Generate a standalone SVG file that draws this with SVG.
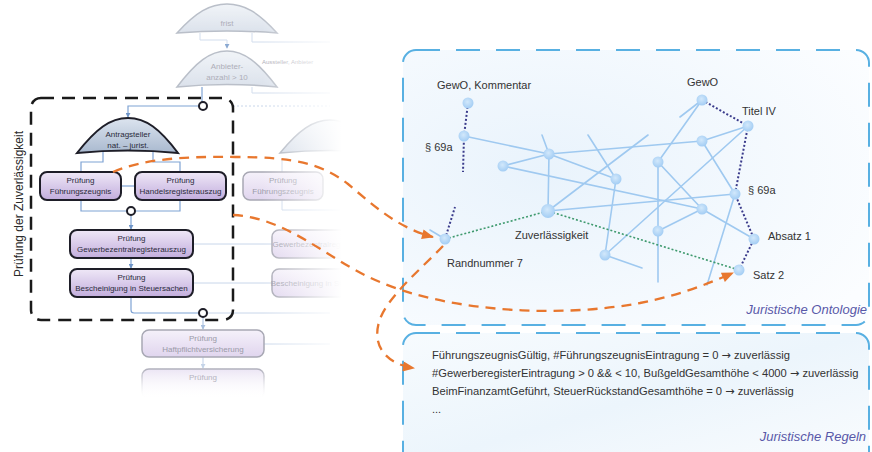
<svg xmlns="http://www.w3.org/2000/svg" width="872" height="452" viewBox="0 0 872 452">
<defs>
<style>
.t{font-family:"Liberation Sans",Arial,sans-serif;fill:#333}
.ar{font-family:"DejaVu Sans",sans-serif}
.fc{font-family:"Liberation Sans",Arial,sans-serif;font-size:8px;fill:#2a2a3a;text-anchor:middle}
.ff{font-family:"Liberation Sans",Arial,sans-serif;font-size:8px;fill:#9a9aa8;text-anchor:middle}
.box{fill:url(#gPurple);stroke:#1e1e28;stroke-width:2}
.fbox{fill:url(#gPurpleF);stroke:#a8a8b4;stroke-width:1.5}
.dome{fill:url(#gDome);stroke:#1e1e28;stroke-width:2}
.fdome{fill:url(#gDomeF);stroke:#a9b0bc;stroke-width:1.5}
.ln{fill:none;stroke:#7fa3d4;stroke-width:1.2}
.fln{fill:none;stroke:#c8d6ea;stroke-width:1}
.circ{fill:#fff;stroke:#1e1e28;stroke-width:2}
.e{stroke:#9fc9f0;stroke-width:1.6;fill:none;stroke-linecap:round}
.n{fill:url(#gNode)}
.nav{stroke:#3b3c8c;stroke-width:2;stroke-dasharray:2 2;fill:none}
.grn{stroke:#3f9a6e;stroke-width:1.6;stroke-dasharray:2 2;fill:none}
.or{fill:none;stroke:#e8772e;stroke-width:2.3;stroke-dasharray:10 7}
.panel{stroke:#58b0e2;stroke-width:2;stroke-dasharray:24 16}
</style>
<linearGradient id="gPurple" x1="0" y1="0" x2="0" y2="1">
<stop offset="0" stop-color="#efe8f7"/><stop offset="1" stop-color="#c2addd"/>
</linearGradient>
<linearGradient id="gPurpleF" x1="0" y1="0" x2="0" y2="1">
<stop offset="0" stop-color="#f5f1fa"/><stop offset="1" stop-color="#e0d5ee"/>
</linearGradient>
<linearGradient id="gPurpleV" x1="0" y1="0" x2="0" y2="1">
<stop offset="0" stop-color="#e9e2f3" stop-opacity="0.9"/><stop offset="1" stop-color="#ffffff" stop-opacity="0"/>
</linearGradient>
<linearGradient id="gStrokeV" x1="0" y1="0" x2="0" y2="1">
<stop offset="0" stop-color="#b0b0bc"/><stop offset="1" stop-color="#ffffff" stop-opacity="0"/>
</linearGradient>
<linearGradient id="gDome" x1="0" y1="0" x2="0" y2="1">
<stop offset="0" stop-color="#dce4ef"/><stop offset="1" stop-color="#a9b9cf"/>
</linearGradient>
<linearGradient id="gDomeF" x1="0" y1="0" x2="0" y2="1">
<stop offset="0" stop-color="#eef2f7"/><stop offset="1" stop-color="#d3dbe7"/>
</linearGradient>
<linearGradient id="gFade" x1="0" y1="0" x2="1" y2="0">
<stop offset="0" stop-color="#fff" stop-opacity="0"/><stop offset="1" stop-color="#fff" stop-opacity="1"/>
</linearGradient>
<radialGradient id="gNode" cx="0.45" cy="0.4" r="0.6">
<stop offset="0" stop-color="#d2e8fb"/><stop offset="1" stop-color="#a3cdf4"/>
</radialGradient>
<radialGradient id="gOnto" cx="0.3" cy="0.45" r="0.8">
<stop offset="0" stop-color="#e9f3fc"/><stop offset="1" stop-color="#fbfdff"/>
</radialGradient>
<linearGradient id="gRules" x1="0" y1="0" x2="1" y2="1">
<stop offset="0" stop-color="#f7fbfe"/><stop offset="0.5" stop-color="#ecf5fc"/><stop offset="1" stop-color="#fafcfe"/>
</linearGradient>
<marker id="aBlue" viewBox="0 0 6 6" refX="5" refY="3" markerWidth="5" markerHeight="5" orient="auto" markerUnits="userSpaceOnUse">
<path d="M0,0 L6,3 L0,6 Z" fill="#6f95c8"/>
</marker>
<marker id="aOr" viewBox="0 0 12 10" refX="11" refY="5" markerWidth="13" markerHeight="10" orient="auto" markerUnits="userSpaceOnUse">
<path d="M0,0 L12,5 L0,10 Z" fill="#e8772e"/>
</marker>
</defs>

<rect width="872" height="452" fill="#fff"/>

<!-- faded top part of flowchart -->
<g id="top-faded" opacity="0.8">
<g id="dome-frist">
<path class="fdome" d="M177,33 C196,12 210,4 227,4 C244,4 258,12 277,33 Q227,29 177,33 Z"/>
<text class="ff" x="227" y="26">frist</text>
</g>
<path class="fln" d="M200,33 V40 H227 V48" marker-end="url(#aBlue)"/>
<path class="fln" d="M252,33 V42 H330"/>
<g id="dome-anbieter">
<path class="fdome" d="M177,87 C196,62 210,51 227,51 C244,51 258,62 277,87 Q227,82 177,87 Z"/>
<text class="ff" x="227" y="69">Anbieter-</text>
<text class="ff" x="227" y="80">anzahl &gt; 10</text>
</g>
<text class="ff" x="262" y="64" style="font-size:6px;text-anchor:start">Aussteller, Anbieter</text>
<path class="fln" d="M252,87 V93 H330"/>
</g>
<rect x="262" y="0" width="80" height="95" fill="url(#gFade)"/>
<rect x="341" y="0" width="60" height="95" fill="#fff"/>

<!-- right faded duplicates -->
<g id="faded-right">
<path class="fln" d="M233,106 H330" stroke-dasharray="2 2"/>
<path class="fdome" d="M280,153 C299,130 313,120 330,120 C347,120 361,130 380,153 Q330,148 280,153 Z"/>
<path class="fln" d="M282,160 V210 H340"/>
<g id="box-fz2">
<rect class="fbox" x="243" y="172" width="80" height="28" rx="7"/>
<text class="ff" x="283" y="183">Prüfung</text>
<text class="ff" x="283" y="194">Führungszeugnis</text>
</g>
<path class="fln" d="M193,244 H272 M193,283 H272"/>
<g id="box-gz2">
<rect class="fbox" x="272" y="230" width="110" height="28" rx="7"/>
<text class="ff" x="327" y="247">Gewerbezentralregisterauszug</text>
</g>
<g id="box-bs2">
<rect class="fbox" x="272" y="269" width="110" height="28" rx="7"/>
<text class="ff" x="327" y="286">Bescheinigung in Steuersachen</text>
</g>
<path class="fln" d="M203,313 H330 M264,344 H330"/>
</g>
<rect x="262" y="95" width="80" height="270" fill="url(#gFade)"/>
<rect x="341" y="95" width="60" height="270" fill="#fff"/>

<!-- flowchart connectors -->
<g id="flow-connectors">
<path class="ln" d="M202,87 V102"/>
<path class="ln" d="M199,106 H128 V117" marker-end="url(#aBlue)"/>
<path class="ln" d="M103,152 V162 H81 V172"/>
<path class="ln" d="M153,152 V162 H180 V172"/>
<path class="ln" d="M121,186 H135"/>
<path class="ln" d="M81,200 V211 H127 M135,211 H180 V200"/>
<path class="ln" d="M131,215 V229" marker-end="url(#aBlue)"/>
<path class="ln" d="M131,258 V268" marker-end="url(#aBlue)"/>
<path class="ln" d="M131,297 V310 Q131,313 134,313 H199"/>
<path class="ln" d="M203,317 V329" marker-end="url(#aBlue)" opacity="0.6"/>
<path class="ln" d="M203,357 V368" marker-end="url(#aBlue)" opacity="0.4"/>
</g>

<g id="circle1"><circle class="circ" cx="203" cy="106" r="4"/></g>
<g id="dome-antragsteller">
<path class="dome" d="M77,153 C96,129 110,118 128,118 C146,118 160,129 178,153 Q128,148 77,153 Z"/>
<text class="fc" x="128" y="137">Antragsteller</text>
<text class="fc" x="128" y="148">nat. – jurist.</text>
</g>
<g id="box-fz">
<rect class="box" x="40" y="172" width="81" height="28" rx="7"/>
<text class="fc" x="80.5" y="183">Prüfung</text>
<text class="fc" x="80.5" y="194">Führungszeugnis</text>
</g>
<g id="box-hr">
<rect class="box" x="135" y="172" width="91" height="28" rx="7"/>
<text class="fc" x="180.5" y="183">Prüfung</text>
<text class="fc" x="180.5" y="194">Handelsregisterauszug</text>
</g>
<g id="circle2"><circle class="circ" cx="131" cy="211" r="4"/></g>
<g id="box-gz">
<rect class="box" x="70" y="230" width="123" height="28" rx="7"/>
<text class="fc" x="131.5" y="241">Prüfung</text>
<text class="fc" x="131.5" y="252">Gewerbezentralregisterauszug</text>
</g>
<g id="box-bs">
<rect class="box" x="70" y="269" width="123" height="28" rx="7"/>
<text class="fc" x="131.5" y="280">Prüfung</text>
<text class="fc" x="131.5" y="291">Bescheinigung in Steuersachen</text>
</g>
<g id="circle3"><circle class="circ" cx="203" cy="313" r="4"/></g>
<g id="box-hp">
<rect class="fbox" x="142" y="330" width="122" height="27" rx="7"/>
<text class="ff" x="203" y="341">Prüfung</text>
<text class="ff" x="203" y="352">Haftpflichtversicherung</text>
</g>
<g id="box-last">
<rect x="142" y="369" width="122" height="30" rx="7" fill="url(#gPurpleV)" stroke="url(#gStrokeV)" stroke-width="1.5"/>
<text class="ff" x="203" y="380" opacity="0.7">Prüfung</text>
</g>

<g id="group-zuverlaessigkeit">
<rect x="31" y="98" width="202" height="222" rx="10" fill="none" stroke="#1a1a1a" stroke-width="2.5" stroke-dasharray="13 8"/>
<text class="t" transform="translate(23,204) rotate(-90)" text-anchor="middle" style="font-size:12px;fill:#2a2a2a">Prüfung der Zuverlässigkeit</text>
</g>

<!-- ontology panel -->
<g id="panel-ontologie">
<rect class="panel" x="403" y="50" width="466" height="275" rx="13" fill="url(#gOnto)"/>
<text class="t" x="867" y="314" text-anchor="end" style="font-size:13px;font-style:italic;fill:#5858a8">Juristische Ontologie</text>
</g>
<g id="panel-regeln">
<rect class="panel" x="403" y="333" width="466" height="135" rx="13" fill="url(#gRules)"/>
<text class="t" x="432" y="359" style="font-size:11.2px">FührungszeugnisGültig, #FührungszeugnisEintragung = 0 <tspan class="ar">→</tspan> zuverlässig</text>
<text class="t" x="432" y="377" style="font-size:11.2px">#GewerberegisterEintragung &gt; 0 &amp;&amp; &lt; 10, BußgeldGesamthöhe &lt; 4000 <tspan class="ar">→</tspan> zuverlässig</text>
<text class="t" x="432" y="395" style="font-size:11.2px">BeimFinanzamtGeführt, SteuerRückstandGesamthöhe = 0 <tspan class="ar">→</tspan> zuverlässig</text>
<text class="t" x="432" y="413" style="font-size:11px">...</text>
<text class="t" x="866" y="441" text-anchor="end" style="font-size:13px;font-style:italic;fill:#5858a8">Juristische Regeln</text>
</g>

<!-- ontology edges -->
<g id="onto-edges">
<path class="e" d="M464,136 L549,154 M549,154 L503,166 M549,154 L616,179 M549,154 L702,141 M549,154 L548,211 M542,135 L549,154"/>
<path class="e" d="M503,166 L702,209 M588,135 L616,179 M616,179 L605,255 M648,135 L548,211 M548,211 L735,194"/>
<path class="e" d="M702,100 L658,162 M680,117 L702,100 M658,162 L658,282 M658,162 L702,209 M702,141 L748,126 M702,141 L735,194"/>
<path class="e" d="M748,126 L605,255 M605,255 L642,268 M658,231 L702,209 M702,209 L754,239 M735,194 L707,285 M430,230 L445,239"/>
<path class="nav" d="M468,103 L464,136 L463,172"/>
<path class="nav" d="M702,100 L748,126 L735,194 L754,239 L739,270"/>
<path class="nav" d="M445,239 L455,207"/>
<path class="grn" d="M445,239 L548,211 L739,270"/>
</g>

<!-- ontology nodes -->
<g id="node-gewo-kommentar"><circle class="n" cx="468" cy="103" r="5.5"/><text class="t" x="437" y="89" style="font-size:11px">GewO, Kommentar</text></g>
<g id="node-69a-l"><circle class="n" cx="464" cy="136" r="5.5"/><text class="t" x="425" y="151" style="font-size:11px">§ 69a</text></g>
<g id="node-a"><circle class="n" cx="549" cy="154" r="5.5"/></g>
<g id="node-b"><circle class="n" cx="503" cy="166" r="5.5"/></g>
<g id="node-c"><circle class="n" cx="616" cy="179" r="5.5"/></g>
<g id="node-zuv"><circle class="n" cx="548" cy="211" r="7"/><text class="t" x="515" y="239" style="font-size:11px">Zuverlässigkeit</text></g>
<g id="node-rn7"><circle class="n" cx="445" cy="239" r="5.5"/><text class="t" x="447" y="267" style="font-size:11px">Randnummer 7</text></g>
<g id="node-d"><circle class="n" cx="605" cy="255" r="5.5"/></g>
<g id="node-gewo"><circle class="n" cx="702" cy="100" r="5.5"/><text class="t" x="687" y="86" style="font-size:11px">GewO</text></g>
<g id="node-titel"><circle class="n" cx="748" cy="126" r="5.5"/><text class="t" x="742" y="115" style="font-size:11px">Titel IV</text></g>
<g id="node-e"><circle class="n" cx="702" cy="141" r="5.5"/></g>
<g id="node-f"><circle class="n" cx="658" cy="162" r="5.5"/></g>
<g id="node-69a-r"><circle class="n" cx="735" cy="194" r="5.5"/><text class="t" x="748" y="194" style="font-size:11px">§ 69a</text></g>
<g id="node-g"><circle class="n" cx="702" cy="209" r="5.5"/></g>
<g id="node-h"><circle class="n" cx="658" cy="231" r="5.5"/></g>
<g id="node-absatz"><circle class="n" cx="754" cy="239" r="5.5"/><text class="t" x="768" y="240" style="font-size:11px">Absatz 1</text></g>
<g id="node-satz"><circle class="n" cx="739" cy="270" r="5.5"/><text class="t" x="753" y="279" style="font-size:11px">Satz 2</text></g>

<!-- orange mapping connectors -->
<g id="mapping-connectors">
<path class="or" d="M113,172 C140,160 180,156 235,157 C295,157 322,164 348,184 C374,206 398,228 433,237" marker-end="url(#aOr)"/>
<path class="or" d="M233,215 C290,218 330,262 380,282 C450,312 560,318 640,303 C680,295 705,285 733,273" marker-end="url(#aOr)"/>
<path class="or" d="M443,246 C420,270 386,298 379,322 C372,346 386,364 414,368" marker-end="url(#aOr)"/>
</g>
</svg>
